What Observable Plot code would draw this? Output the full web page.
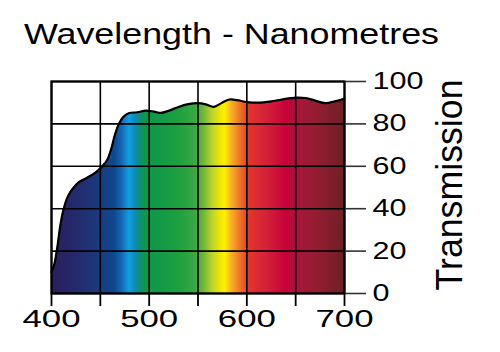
<!DOCTYPE html>
<html><head><meta charset="utf-8">
<script src="https://cdn.jsdelivr.net/npm/d3@7"></script>
<script src="https://cdn.jsdelivr.net/npm/@observablehq/plot@0.6"></script>
<style>
body{margin:0;background:#fff}
#chart{position:relative;width:500px;height:352px}
</style>
</head><body><div id="chart"></div>
<script>
// ---- data ----
const wavelength   = [400,403,406,409,412,416,421,428,436,445,452,457,461,465,469,473,479,488,497,505,512,520,530,540,550,558,566,574,582,590,600,612,625,637,650,660,670,680,690,700];
const transmission = [10,14,22,32,39,45,49,52.5,54.5,57,60,63,68,75,80,83,85,85.5,86.3,85.8,85.2,86.2,88,89.3,89.8,89.2,88,89.8,91.5,91.2,90.3,90,90.6,91.6,92.4,92.2,91,89.8,90.6,92];
const xTicks = [400,450,500,550,600,650,700];
const xTickLabels = [400,500,600,700];
const yTicks = [0,20,40,60,80,100];
const titleText = "Wavelength - Nanometres";
const yLabel = "Transmission";
// spectrum colour stops (wavelength -> colour)
const spectrumNm     = [400,425,450,465,472,480,485,490,496,505,530,547,555,565,574,578,584,594,603,620,640,652,675,700];
const spectrumColors = ["#2b1d5c","#232a6c","#1c3a7e","#0d4a8e","#1666b4","#12a0e0","#0b8fc0","#0b8f80","#12944c","#10984a","#1ca040","#3aa840","#6ab43c","#bcd42c","#f4e800","#fff000","#f8b428","#ef7024","#e4332e","#d42238","#c8023a","#a8163a","#901e30","#6c2026"];

const data = wavelength.map((w, i) => ({w, t: transmission[i]}));

const gradientMark = (index, scales, values, dimensions, context) => {
  const g = d3.create("svg:g");
  const grad = g.append("defs").append("linearGradient")
    .attr("id", "spectrum").attr("gradientUnits", "userSpaceOnUse")
    .attr("x1", scales.x(400)).attr("x2", scales.x(700)).attr("y1", 0).attr("y2", 0);
  const x0 = scales.x(400), x1 = scales.x(700);
  spectrumNm.forEach((nm, i) => {
    grad.append("stop").attr("offset", (scales.x(nm) - x0) / (x1 - x0)).attr("stop-color", spectrumColors[i]);
  });
  return g.node();
};

const plot = Plot.plot({
  width: 500, height: 352,
  marginLeft: 51, marginRight: 156, marginTop: 81, marginBottom: 59,
  x: {domain: [400, 700]},
  y: {domain: [0, 100]},
  style: {fontFamily: "'Liberation Sans', Arial, sans-serif", color: "#000", background: "#fff", overflow: "visible"},
  marks: [
    gradientMark,
    Plot.areaY(data, {x: "w", y: "t", fill: "url(#spectrum)", curve: "catmull-rom"}),
    Plot.gridX(xTicks, {stroke: "#000", strokeOpacity: 1, strokeWidth: 1.6}),
    Plot.gridY(yTicks, {stroke: "#000", strokeOpacity: 1, strokeWidth: 1.6}),
    Plot.lineY(data, {x: "w", y: "t", stroke: "#000", strokeWidth: 2.2, curve: "catmull-rom"}),
    Plot.frame({stroke: "#000", strokeWidth: 2.2}),
    Plot.axisX(xTicks, {anchor: "bottom", tickSize: 13, tickPadding: 3, strokeWidth: 1.8, fontSize: 24.5,
      tickFormat: d => xTickLabels.includes(d) ? String(d) : "", label: null}),
    Plot.axisY(yTicks, {anchor: "right", tickSize: 21, tickPadding: 7, strokeWidth: 1.6, stroke: "#333", fontSize: 23.5, label: null})
  ]
});
document.getElementById("chart").appendChild(plot);

const svg = d3.select(plot);
// widen tick label glyphs like the original's extended face
svg.selectAll('g[aria-label="x-axis tick label"] text').each(function() {
  const len = this.getComputedTextLength();
  if (len > 0) d3.select(this).attr("textLength", len * 1.42).attr("lengthAdjust", "spacingAndGlyphs");
});
svg.selectAll('g[aria-label="y-axis tick label"] text').each(function() {
  const len = this.getComputedTextLength();
  if (len > 0) d3.select(this).attr("textLength", len * 1.3).attr("lengthAdjust", "spacingAndGlyphs");
});
// title
svg.append("text").attr("x", 24).attr("y", 43.5)
  .attr("text-anchor", "start")
  .attr("font-size", 30).attr("fill", "#000")
  .attr("textLength", 415).attr("lengthAdjust", "spacingAndGlyphs")
  .text(titleText);
// vertical axis title
svg.append("text").attr("transform", "translate(462,185) rotate(-90)")
  .attr("text-anchor", "middle").attr("font-size", 36).attr("fill", "#000")
  .attr("textLength", 211).attr("lengthAdjust", "spacingAndGlyphs")
  .text(yLabel);
</script>
</body></html>
